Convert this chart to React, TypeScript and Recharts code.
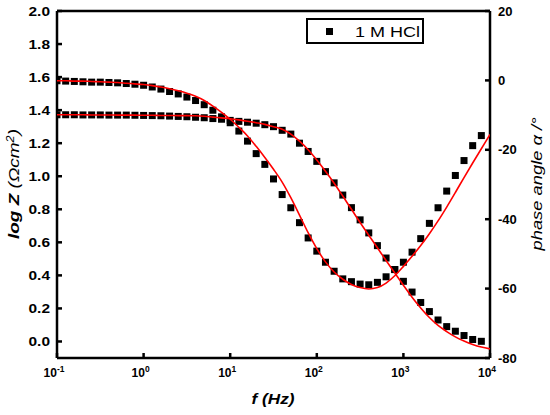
import React from 'react';
import { ComposedChart, Scatter, Line, XAxis, YAxis, ReferenceLine, Legend, Label } from 'recharts';

document.body.style.margin = '0';

const FONT = "Arial, 'Liberation Sans', sans-serif";

// measured points, log10 of frequency
const logF = [
  -1.0, -0.9, -0.8, -0.7, -0.6, -0.5, -0.4, -0.3, -0.2, -0.1,
  0.0, 0.1, 0.2, 0.3, 0.4, 0.5, 0.6, 0.7, 0.8, 0.9,
  1.0, 1.1, 1.2, 1.3, 1.4, 1.5, 1.6, 1.7, 1.8, 1.9,
  2.0, 2.1, 2.2, 2.3, 2.4, 2.5, 2.6, 2.7, 2.8, 2.9,
  3.0, 3.1, 3.2, 3.3, 3.4, 3.5, 3.6, 3.7, 3.8, 3.9,
];

const logZ = [
  1.372, 1.372, 1.372, 1.371, 1.371, 1.371, 1.37, 1.37, 1.37, 1.369,
  1.368, 1.367, 1.366, 1.364, 1.362, 1.36, 1.357, 1.354, 1.349, 1.345,
  1.338, 1.332, 1.327, 1.321, 1.312, 1.3, 1.278, 1.255, 1.2, 1.15,
  1.09, 1.028, 0.96, 0.886, 0.81, 0.736, 0.657, 0.58, 0.505, 0.435,
  0.364, 0.299, 0.236, 0.181, 0.13, 0.09, 0.062, 0.036, 0.012, 0.001,
];

const phase = [
  -0.1, -0.2, -0.3, -0.4, -0.5, -0.5, -0.6, -0.7, -0.9, -1.1,
  -1.4, -1.9, -2.5, -3.2, -3.9, -4.8, -5.8, -7.0, -8.6, -10.5,
  -12.2, -14.6, -17.5, -21.1, -24.2, -28.4, -32.9, -36.7, -41.0, -45.4,
  -49.2, -52.4, -55.0, -57.2, -58.0, -58.7, -58.9, -58.2, -56.6, -54.5,
  -52.4, -49.5, -45.6, -41.2, -36.7, -31.9, -27.4, -23.1, -18.8, -15.9,
];

// fitted curves
const fitLogF = [
  -1.0, -0.9, -0.8, -0.7, -0.6, -0.5, -0.4, -0.3, -0.2, -0.1,
  0.0, 0.1, 0.2, 0.3, 0.4, 0.5, 0.6, 0.7, 0.8, 0.9,
  1.0, 1.1, 1.2, 1.3, 1.4, 1.5, 1.6, 1.7, 1.8, 1.9,
  2.0, 2.1, 2.2, 2.3, 2.4, 2.5, 2.6, 2.7, 2.8, 2.9,
  3.0, 3.1, 3.2, 3.3, 3.4, 3.5, 3.6, 3.7, 3.8, 3.9, 4.0,
];

const fitLogZ = [
  1.372, 1.372, 1.372, 1.372, 1.371, 1.371, 1.371, 1.37, 1.37, 1.37,
  1.369, 1.369, 1.368, 1.368, 1.367, 1.367, 1.366, 1.363, 1.358, 1.353,
  1.348, 1.341, 1.333, 1.324, 1.314, 1.3, 1.284, 1.255, 1.212, 1.16,
  1.098, 1.03, 0.958, 0.88, 0.8, 0.72, 0.643, 0.567, 0.49, 0.415,
  0.34, 0.268, 0.203, 0.145, 0.097, 0.06, 0.028, 0.003, -0.018, -0.034, -0.045,
];

const fitPhase = [
  -0.1, -0.1, -0.2, -0.2, -0.3, -0.4, -0.5, -0.6, -0.8, -1.0,
  -1.2, -1.5, -1.9, -2.4, -3.0, -3.7, -4.6, -5.8, -7.4, -9.2,
  -11.2, -13.5, -16.0, -19.0, -22.2, -25.6, -29.3, -33.8, -38.8, -43.9,
  -48.5, -52.3, -55.2, -57.3, -58.8, -59.7, -60.1, -59.7, -58.4, -56.3,
  -53.6, -50.7, -47.6, -44.2, -40.5, -36.5, -32.3, -28.0, -23.8, -19.7, -15.6,
];

const xTicks = [-1, 0, 1, 2, 3, 4];
const zTicks = [0, 0.2, 0.4, 0.6, 0.8, 1.0, 1.2, 1.4, 1.6, 1.8, 2.0];
const phaseTicks = [-80, -60, -40, -20, 0, 20];

const zPoints = logF.map((x, i) => ({ x, logZ: logZ[i] }));
const phasePoints = logF.map((x, i) => ({ x, phase: phase[i] }));
const zFit = fitLogF.map((x, i) => ({ x, logZ: fitLogZ[i] }));
const phaseFit = fitLogF.map((x, i) => ({ x, phase: fitPhase[i] }));

const Square = (props: any) => {
  const { cx, cy } = props;
  return <rect x={cx - 3.5} y={cy - 3.5} width={7} height={7} fill="#000" />;
};

const BottomTick = (props: any) => {
  const { x, y, payload } = props;
  return (
    <g>
      <line x1={x} y1={y} x2={x} y2={y - 5} stroke="#000" strokeWidth={2.5} />
      <text x={x - 3} y={y + 19} textAnchor="middle" fontFamily={FONT} fontWeight="bold" fontSize={12} fill="#000">
        10<tspan dy={-5} fontSize={8.5}>{payload.value}</tspan>
      </text>
    </g>
  );
};

const LeftTick = (props: any) => {
  const { x, y, payload } = props;
  return (
    <g>
      <line x1={x} y1={y} x2={x + 5} y2={y} stroke="#000" strokeWidth={2.5} />
      <text
        x={x - 7}
        y={y + 4.5}
        textAnchor="end"
        fontFamily={FONT}
        fontWeight="bold"
        fontSize={13}
        textLength={21.5}
        lengthAdjust="spacingAndGlyphs"
        fill="#000"
      >
        {payload.value.toFixed(1)}
      </text>
    </g>
  );
};

const RightTick = (props: any) => {
  const { x, y, payload } = props;
  return (
    <g>
      <line x1={x} y1={y} x2={x - 5} y2={y} stroke="#000" strokeWidth={2.5} />
      <text x={x + 8} y={y + 4.5} textAnchor="start" fontFamily={FONT} fontWeight="bold" fontSize={13} fill="#000">
        {payload.value}
      </text>
    </g>
  );
};

const LegendBox = () => (
  <div
    style={{
      width: 118,
      height: 26,
      border: '2px solid #000',
      boxSizing: 'border-box',
      position: 'relative',
      background: '#fff',
      fontFamily: FONT,
    }}
  >
    <div style={{ position: 'absolute', left: 17.5, top: 7.5, width: 7, height: 7, background: '#000' }} />
    <span
      style={{
        position: 'absolute',
        left: 47,
        top: 3,
        fontSize: 15,
        lineHeight: '17px',
        whiteSpace: 'nowrap',
        transform: 'scaleX(1.2)',
        transformOrigin: 'left',
      }}
    >
      1 M HCl
    </span>
  </div>
);

export default function App() {
  return (
    <ComposedChart width={550} height={415} margin={{ top: 11, right: 0, bottom: 0, left: 0 }}>
      <XAxis
        xAxisId={0}
        type="number"
        dataKey="x"
        domain={[-1, 4]}
        ticks={xTicks}
        interval={0}
        height={57}
        tickSize={0}
        tickMargin={0}
        tickLine={false}
        tick={<BottomTick />}
        axisLine={{ stroke: '#000', strokeWidth: 2.5 }}
        allowDataOverflow
      >
        <Label
          content={() => (
            <text
              x={273}
              y={404}
              textAnchor="middle"
              fontFamily={FONT}
              fontWeight="bold"
              fontStyle="italic"
              fontSize={14.5}
              textLength={43}
              lengthAdjust="spacingAndGlyphs"
              fill="#000"
            >
              f (Hz)
            </text>
          )}
        />
      </XAxis>
      <YAxis
        yAxisId="left"
        orientation="left"
        type="number"
        dataKey="logZ"
        domain={[-0.1, 2.0]}
        ticks={zTicks}
        interval={0}
        width={57}
        tickSize={0}
        tickMargin={0}
        tickLine={false}
        tick={<LeftTick />}
        axisLine={{ stroke: '#000', strokeWidth: 2.5 }}
        allowDataOverflow
      >
        <Label
          content={() => (
            <text
              transform="translate(19,184) rotate(-90)"
              textAnchor="middle"
              fontFamily={FONT}
              fontStyle="italic"
              fontSize={15}
              textLength={110}
              lengthAdjust="spacingAndGlyphs"
              fill="#000"
            >
              <tspan fontWeight="bold">log Z </tspan>
              <tspan>(Ωcm</tspan>
              <tspan dy={-5} fontSize={10}>2</tspan>
              <tspan dy={5}>)</tspan>
            </text>
          )}
        />
      </YAxis>
      <YAxis
        yAxisId="right"
        orientation="right"
        type="number"
        dataKey="phase"
        domain={[-80, 20]}
        ticks={phaseTicks}
        interval={0}
        width={60}
        tickSize={0}
        tickMargin={0}
        tickLine={false}
        tick={<RightTick />}
        axisLine={{ stroke: '#000', strokeWidth: 2.5 }}
        allowDataOverflow
      >
        <Label
          content={() => (
            <text
              transform="translate(541.5,184) rotate(-90)"
              textAnchor="middle"
              fontFamily={FONT}
              fontStyle="italic"
              fontSize={15}
              textLength={133}
              lengthAdjust="spacingAndGlyphs"
              fill="#000"
            >
              phase angle α /°
            </text>
          )}
        />
      </YAxis>
      <ReferenceLine yAxisId="left" y={2.0} stroke="#000" strokeWidth={2.5} />
      <Legend
        verticalAlign="middle"
        align="center"
        content={<LegendBox />}
        wrapperStyle={{ left: 306, top: 18, width: 118, height: 26 }}
      />
      <Scatter data={zPoints} dataKey="logZ" yAxisId="left" shape={<Square />} isAnimationActive={false} />
      <Scatter data={phasePoints} dataKey="phase" yAxisId="right" shape={<Square />} isAnimationActive={false} />
      <Line
        data={zFit}
        dataKey="logZ"
        yAxisId="left"
        type="monotone"
        stroke="#ff0000"
        strokeWidth={1.6}
        dot={false}
        activeDot={false}
        isAnimationActive={false}
        zIndex={700}
      />
      <Line
        data={phaseFit}
        dataKey="phase"
        yAxisId="right"
        type="monotone"
        stroke="#ff0000"
        strokeWidth={1.6}
        dot={false}
        activeDot={false}
        isAnimationActive={false}
        zIndex={700}
      />
    </ComposedChart>
  );
}
